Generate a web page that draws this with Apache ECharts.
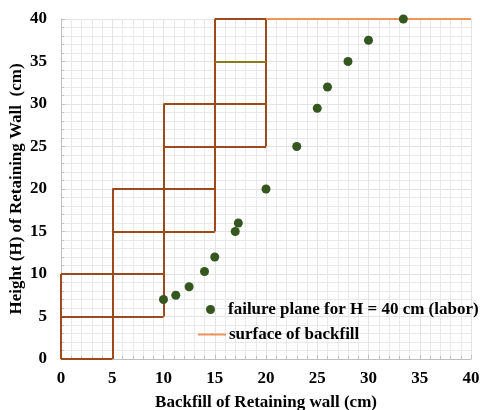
<!DOCTYPE html>
<html>
<head>
<meta charset="utf-8">
<script src="https://cdn.jsdelivr.net/npm/echarts@6/dist/echarts.min.js"></script>
<style>html,body{margin:0;padding:0;background:#fff}#c{width:480px;height:410px}</style>
</head>
<body>
<div id="c"></div>
<script>
// Failure plane points (x = backfill cm, y = height cm)
var failureX = [10, 11.2, 12.5, 14, 15, 17, 17.3, 20, 23, 25, 26, 28, 30, 33.4];
var failureY = [7, 7.5, 8.5, 10.3, 12, 15, 16, 20, 25, 29.5, 32, 35, 37.5, 40];
// Surface of backfill
var surfaceX = [20, 40];
var surfaceY = [40, 40];
// Retaining wall block outlines: [x1, y1, x2, y2]
var wallSegments = [
  [0, 0, 5, 0], [0, 0, 0, 10], [5, 0, 5, 20], [0, 5, 10, 5], [0, 10, 10, 10],
  [10, 5, 10, 30], [5, 15, 15, 15], [5, 20, 15, 20], [15, 15, 15, 40],
  [10, 25, 20, 25], [10, 30, 20, 30], [15, 40, 20, 40], [20, 25, 20, 40]
];
var oliveSegments = [[15, 35, 20, 35]];
var xTicks = [0, 5, 10, 15, 20, 25, 30, 35, 40];
var yTicks = [0, 5, 10, 15, 20, 25, 30, 35, 40];
var seriesNames = ['failure plane for H = 40 cm (labor)', 'surface of backfill'];
var xTitle = 'Backfill of Retaining wall (cm)';
var yTitle = 'Height (H) of Retaining Wall  (cm)';

var FONT = '"Liberation Serif", "Times New Roman", serif';
function seg(s){ return {coords: [[s[0], s[1]], [s[2], s[3]]]}; }

var chart = echarts.init(document.getElementById('c'), null, {renderer: 'canvas'});
var axisCommon = function(name, ticks){
  return {
    type: 'value', min: ticks[0], max: ticks[ticks.length-1], interval: ticks[1]-ticks[0],
    name: name, nameLocation: 'middle', nameMoveOverlap: false,
    nameTextStyle: {fontFamily: FONT, fontWeight: 'bold', fontSize: 17, color: '#000'},
    axisLine: {show: true, lineStyle: {color: '#bfbfbf', width: 1}},
    axisTick: {show: true, inside: true, length: 4, lineStyle: {color: '#bfbfbf'}},
    minorTick: {show: true, splitNumber: 5, length: 3, lineStyle: {color: '#bfbfbf'}},
    splitLine: {show: true, lineStyle: {color: '#e3e3e3', width: 1}},
    minorSplitLine: {show: true, lineStyle: {color: '#e9e9e9', width: 1}},
    axisLabel: {fontFamily: FONT, fontWeight: 'bold', fontSize: 17, color: '#000'}
  };
};
var xa = axisCommon(xTitle, xTicks);
xa.nameGap = 35; xa.axisLabel.margin = 11;
var ya = axisCommon(yTitle, yTicks);
ya.nameGap = 36; ya.axisLabel.margin = 14;

chart.setOption({
  animation: false,
  grid: {left: 61, right: 9, top: 19, bottom: 51, containLabel: false, outerBoundsMode: 'none'},
  xAxis: xa,
  yAxis: ya,
  legend: [
    {data: [seriesNames[0]], left: 206, top: 301, padding: 0, itemWidth: 9, itemHeight: 9, icon: 'circle',
     itemStyle: {opacity: 1},
     textStyle: {fontFamily: FONT, fontWeight: 'bold', fontSize: 17, color: '#000', padding: [0, 0, 0, 8]}},
    {data: [seriesNames[1]], left: 197, top: 326, padding: 0, itemWidth: 28, itemHeight: 2,
     textStyle: {fontFamily: FONT, fontWeight: 'bold', fontSize: 17, color: '#000', padding: [0, 0, 0, -2]}}
  ],
  series: [
    {type: 'lines', coordinateSystem: 'cartesian2d', silent: true, z: 3,
     lineStyle: {color: '#9c4a1c', width: 2, opacity: 1},
     data: wallSegments.map(seg)},
    {type: 'lines', coordinateSystem: 'cartesian2d', silent: true, z: 3,
     lineStyle: {color: '#8c7a1e', width: 2, opacity: 1},
     data: oliveSegments.map(seg)},
    {name: seriesNames[1], type: 'line', z: 4, symbol: 'none',
     lineStyle: {color: '#f0955a', width: 2},
     itemStyle: {color: '#ed7d31'},
     data: surfaceX.map(function(x, i){ return [x, surfaceY[i]]; })},
    {name: seriesNames[0], type: 'scatter', z: 5, symbol: 'circle', symbolSize: 9,
     itemStyle: {color: '#35571f', opacity: 1},
     data: failureX.map(function(x, i){ return [x, failureY[i]]; })}
  ]
});
</script>
</body>
</html>
